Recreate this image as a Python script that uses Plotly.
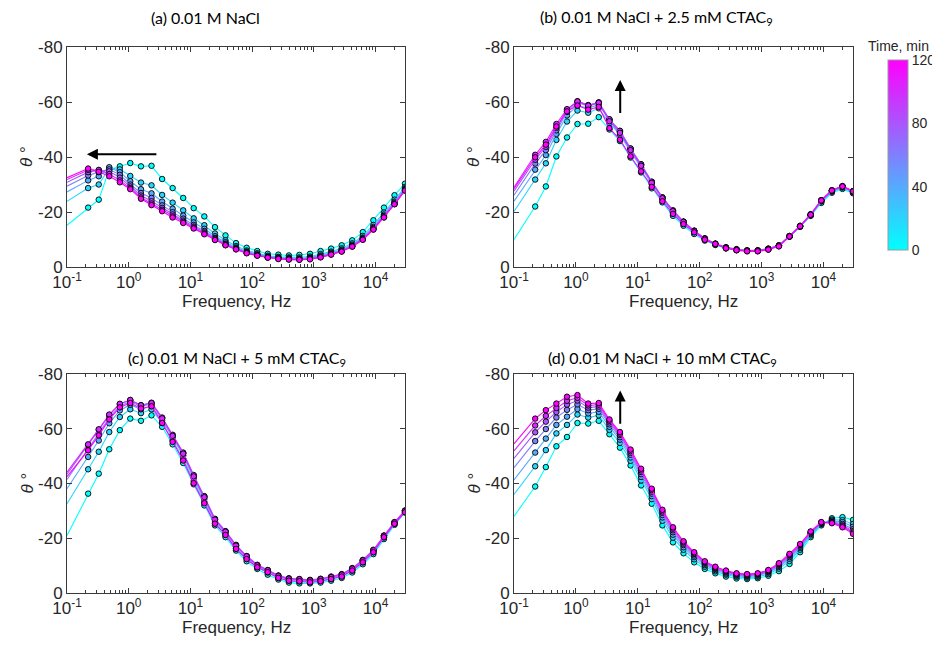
import math
import plotly.graph_objects as go

# ---------------- data ----------------
# frequency points (Hz); the first point (0.1 Hz) is drawn as line only
freq_hz = [0.1, 0.22, 0.327, 0.484, 0.718, 1.06, 1.58, 2.34, 3.48, 5.15, 7.64, 11.3, 16.8,
           25.0, 37.0, 54.8, 81.5, 121, 179, 266, 394, 583, 867, 1285, 1905, 2825, 4188,
           6209, 9226, 13680, 20280, 30000]
time_min = [0, 20, 40, 60, 80, 100, 120]

# (a) 0.01 M NaCl
a_t0 = [-15.2, -21.6, -24.5, -35.4, -36.6, -37.8, -36.6, -36.8, -32.0, -28.7, -25.1, -21.4, -18.4, -14.5, -11.5, -8.7, -7.0, -5.8, -4.8, -4.5, -4.2, -4.4, -4.8, -5.8, -6.7, -7.9, -9.7, -12.7, -17.0, -21.6, -26.1, -30.3]
a_t20 = [-23.9, -28.7, -30.0, -36.0, -35.5, -33.1, -30.7, -29.7, -26.2, -23.4, -20.6, -17.7, -15.2, -12.2, -9.7, -7.6, -6.0, -5.0, -4.1, -3.7, -3.5, -3.5, -3.8, -4.7, -5.6, -6.8, -8.6, -11.3, -15.3, -19.8, -24.5, -29.1]
a_t40 = [-27.3, -31.5, -33.0, -36.3, -34.5, -31.2, -28.3, -26.8, -23.8, -21.2, -18.7, -16.2, -13.9, -11.2, -9.0, -7.1, -5.6, -4.6, -3.8, -3.4, -3.2, -3.1, -3.4, -4.2, -5.2, -6.3, -8.1, -10.7, -14.6, -19.1, -23.8, -28.6]
a_t60 = [-29.4, -33.3, -34.5, -35.5, -33.5, -30.0, -26.9, -25.1, -22.4, -19.9, -17.6, -15.3, -13.1, -10.6, -8.5, -6.8, -5.4, -4.4, -3.7, -3.2, -3.0, -2.9, -3.2, -3.9, -4.9, -6.0, -7.8, -10.4, -14.2, -18.6, -23.4, -28.3]
a_t80 = [-30.8, -34.5, -35.2, -34.8, -32.5, -29.3, -26.0, -23.9, -21.5, -19.1, -16.9, -14.7, -12.6, -10.3, -8.3, -6.6, -5.2, -4.3, -3.5, -3.1, -2.9, -2.8, -3.0, -3.7, -4.7, -5.8, -7.6, -10.2, -13.9, -18.4, -23.1, -28.1]
a_t100 = [-31.8, -35.3, -35.3, -33.8, -31.5, -28.7, -25.3, -23.1, -20.8, -18.4, -16.4, -14.3, -12.2, -10.0, -8.0, -6.5, -5.1, -4.2, -3.5, -3.0, -2.8, -2.7, -2.9, -3.6, -4.6, -5.7, -7.5, -10.0, -13.7, -18.1, -22.9, -27.9]
a_t120 = [-32.5, -35.8, -34.6, -33.0, -30.8, -28.3, -24.8, -22.5, -20.3, -18.0, -16.0, -14.0, -11.9, -9.8, -7.9, -6.4, -5.0, -4.1, -3.4, -2.9, -2.7, -2.6, -2.8, -3.5, -4.5, -5.6, -7.4, -9.9, -13.6, -18.0, -22.8, -27.8]

# (b) 0.01 M NaCl + 2.5 mM CTAC9
b_t0 = [-10.0, -22.0, -29.3, -40.2, -47.1, -52.0, -52.1, -54.5, -50.0, -45.8, -39.8, -34.4, -28.6, -23.5, -18.6, -15.0, -12.0, -9.6, -8.0, -6.8, -6.2, -5.9, -6.0, -6.6, -7.8, -11.0, -14.6, -18.6, -23.3, -27.0, -28.4, -26.8]
b_t20 = [-20.2, -31.8, -37.7, -46.2, -52.9, -56.9, -56.1, -57.7, -52.3, -48.1, -41.8, -36.2, -30.1, -24.6, -19.8, -15.9, -12.7, -10.1, -8.2, -6.8, -6.1, -5.8, -5.8, -6.4, -7.6, -11.1, -14.7, -18.8, -23.8, -27.4, -28.9, -27.2]
b_t40 = [-23.9, -35.4, -40.7, -48.4, -55.1, -58.8, -57.7, -59.1, -53.4, -49.2, -42.8, -37.1, -30.8, -25.2, -20.3, -16.4, -13.1, -10.3, -8.3, -7.0, -6.3, -5.9, -5.9, -6.5, -7.7, -11.1, -14.8, -18.9, -24.0, -27.6, -29.1, -27.3]
b_t60 = [-26.1, -37.6, -42.5, -49.7, -56.4, -59.8, -58.5, -59.7, -53.7, -49.5, -43.1, -37.4, -31.0, -25.3, -20.5, -16.5, -13.2, -10.4, -8.4, -7.1, -6.4, -6.0, -6.0, -6.6, -7.8, -11.2, -14.9, -19.0, -24.1, -27.7, -29.2, -27.4]
b_t80 = [-27.6, -39.0, -43.7, -50.6, -57.1, -60.3, -58.9, -59.9, -53.7, -49.5, -43.1, -37.3, -31.0, -25.3, -20.6, -16.5, -13.2, -10.4, -8.5, -7.2, -6.5, -6.1, -6.1, -6.7, -7.9, -11.3, -15.0, -19.2, -24.3, -27.9, -29.4, -27.6]
b_t100 = [-29.0, -40.8, -45.5, -52.0, -57.4, -60.2, -58.7, -59.7, -53.0, -48.8, -42.5, -36.8, -30.6, -25.0, -20.3, -16.4, -13.1, -10.3, -8.5, -7.0, -6.3, -5.9, -5.9, -6.5, -7.7, -11.2, -14.9, -19.1, -24.3, -27.9, -29.4, -27.6]
b_t120 = [-28.5, -39.9, -44.5, -51.1, -56.6, -58.7, -57.2, -58.2, -50.5, -46.3, -40.2, -34.8, -29.1, -23.9, -19.3, -15.6, -12.6, -9.9, -8.4, -6.8, -6.1, -5.7, -5.7, -6.3, -7.5, -11.1, -14.8, -19.0, -24.2, -27.8, -29.3, -27.5]

# (c) 0.01 M NaCl + 5 mM CTAC9
c_t0 = [-21.0, -36.3, -43.6, -52.5, -59.5, -63.7, -62.9, -64.9, -60.7, -54.3, -47.5, -39.7, -32.0, -24.7, -20.4, -15.5, -11.6, -8.8, -6.7, -4.9, -3.8, -3.5, -3.5, -3.8, -4.5, -5.5, -7.5, -10.5, -14.2, -19.7, -24.9, -29.4]
c_t20 = [-32.6, -45.2, -51.6, -58.8, -64.3, -67.1, -65.7, -67.1, -62.1, -55.7, -49.0, -40.9, -33.3, -25.6, -21.3, -16.3, -12.4, -9.4, -7.5, -5.5, -4.5, -4.2, -4.0, -4.4, -5.1, -6.1, -8.2, -11.2, -14.9, -20.3, -25.3, -29.7]
c_t40 = [-38.1, -49.7, -55.7, -62.0, -66.7, -68.8, -67.1, -68.3, -63.1, -56.8, -50.2, -42.0, -34.4, -26.3, -22.0, -16.9, -13.0, -9.8, -8.0, -5.9, -4.9, -4.7, -4.4, -4.8, -5.5, -6.5, -8.6, -11.6, -15.3, -20.6, -25.6, -29.9]
c_t60 = [-41.5, -52.5, -58.3, -64.0, -68.2, -70.0, -68.1, -69.1, -63.9, -57.6, -51.1, -42.8, -35.2, -26.9, -22.5, -17.4, -13.4, -10.2, -8.3, -6.3, -5.2, -5.0, -4.7, -5.1, -5.9, -6.8, -8.9, -11.9, -15.6, -20.9, -25.8, -30.1]
c_t80 = [-43.4, -54.0, -59.6, -65.0, -69.0, -70.5, -68.6, -69.5, -64.1, -57.8, -51.3, -43.1, -35.4, -27.1, -22.6, -17.6, -13.5, -10.3, -8.4, -6.4, -5.4, -5.1, -4.8, -5.2, -6.0, -6.9, -9.1, -12.1, -15.8, -21.0, -25.9, -30.1]
c_t100 = [-44.1, -54.3, -59.8, -65.2, -69.1, -70.5, -68.6, -69.4, -63.8, -57.4, -50.9, -42.6, -35.0, -26.8, -22.4, -17.3, -13.4, -10.1, -8.3, -6.2, -5.2, -5.0, -4.6, -5.0, -5.8, -6.7, -8.9, -11.9, -15.6, -20.9, -25.8, -30.0]
c_t120 = [-42.5, -52.1, -57.6, -63.4, -67.8, -69.4, -67.4, -68.2, -62.1, -55.2, -48.4, -40.1, -32.8, -25.3, -21.2, -16.1, -12.4, -9.4, -7.6, -5.5, -4.5, -4.3, -3.9, -4.3, -5.1, -6.0, -8.2, -11.2, -14.9, -20.4, -25.3, -29.5]

# (d) 0.01 M NaCl + 10 mM CTAC9
d_t0 = [-28.0, -38.9, -46.0, -53.6, -57.0, -62.1, -61.9, -62.9, -58.0, -53.1, -46.6, -39.3, -32.6, -24.7, -18.5, -14.5, -11.2, -8.8, -7.2, -6.0, -5.3, -5.1, -5.4, -6.3, -8.0, -10.6, -14.9, -20.4, -24.7, -27.3, -27.7, -26.7]
d_t20 = [-36.0, -46.3, -52.2, -58.3, -61.4, -65.2, -64.1, -64.9, -59.6, -54.8, -48.3, -41.1, -34.3, -26.4, -20.2, -15.8, -12.3, -9.6, -7.9, -6.7, -5.9, -5.6, -5.9, -6.9, -8.9, -11.7, -15.8, -21.0, -25.1, -26.8, -26.6, -25.2]
d_t40 = [-41.3, -51.3, -56.4, -61.4, -64.4, -67.2, -65.6, -66.2, -60.7, -56.0, -49.5, -42.4, -35.4, -27.6, -21.3, -16.7, -13.1, -10.2, -8.4, -7.1, -6.3, -6.0, -6.3, -7.4, -9.5, -12.5, -16.4, -21.5, -25.3, -26.4, -25.9, -24.2]
d_t60 = [-45.8, -55.5, -59.9, -64.1, -66.9, -68.9, -66.8, -67.3, -61.6, -56.9, -50.5, -43.4, -36.3, -28.5, -22.2, -17.5, -13.7, -10.7, -8.8, -7.5, -6.6, -6.3, -6.6, -7.7, -9.9, -13.1, -16.9, -21.8, -25.5, -26.1, -25.2, -23.3]
d_t80 = [-49.2, -58.7, -62.6, -66.1, -68.8, -70.3, -67.7, -68.1, -62.3, -57.7, -51.2, -44.2, -37.0, -29.3, -22.9, -18.0, -14.2, -11.0, -9.1, -7.8, -6.8, -6.5, -6.8, -8.0, -10.3, -13.6, -17.3, -22.1, -25.7, -25.9, -24.7, -22.6]
d_t100 = [-51.9, -61.2, -64.7, -67.6, -70.2, -71.3, -68.5, -68.8, -62.9, -58.2, -51.8, -44.8, -37.6, -29.8, -23.5, -18.5, -14.5, -11.3, -9.4, -8.0, -7.0, -6.7, -7.0, -8.2, -10.6, -13.9, -17.6, -22.3, -25.8, -25.7, -24.4, -22.1]
d_t120 = [-54.5, -63.7, -66.8, -69.2, -71.7, -72.3, -69.2, -69.4, -63.4, -58.8, -52.4, -45.4, -38.1, -30.4, -24.0, -18.9, -14.9, -11.6, -9.6, -8.2, -7.2, -6.9, -7.2, -8.4, -10.9, -14.3, -17.9, -22.5, -25.9, -25.5, -24.0, -21.6]

panel_titles = ["(a) 0.01 M NaCl",
                "(b) 0.01 M NaCl + 2.5 mM CTAC<sub>9</sub>",
                "(c) 0.01 M NaCl + 5 mM CTAC<sub>9</sub>",
                "(d) 0.01 M NaCl + 10 mM CTAC<sub>9</sub>"]
panel_curves = [
    [a_t0, a_t20, a_t40, a_t60, a_t80, a_t100, a_t120],
    [b_t0, b_t20, b_t40, b_t60, b_t80, b_t100, b_t120],
    [c_t0, c_t20, c_t40, c_t60, c_t80, c_t100, c_t120],
    [d_t0, d_t20, d_t40, d_t60, d_t80, d_t100, d_t120],
]
x_tickvals = [0.1, 1, 10, 100, 1000, 10000]
x_ticktext = ["10<sup>-1</sup>", "10<sup>0</sup>", "10<sup>1</sup>",
              "10<sup>2</sup>", "10<sup>3</sup>", "10<sup>4</sup>"]
y_tickvals = [0, -20, -40, -60, -80]
y_ticktext = ["0", "-20", "-40", "-60", "-80"]
cbar_tickvals = [0, 40, 80, 120]
# arrows: (head freq Hz, head theta, tail freq Hz, tail theta) or None
panel_arrows = [(0.21, -41, 2.97, -41), (5.2, -68, 5.2, -55.5), None, (5.2, -74, 5.2, -61.3)]

# ---------------- layout geometry (window pixels) ----------------
OFF = 8                      # the page body margin shifts the figure by 8 px
W, H = 940 - OFF, 652 - OFF  # figure size so that it ends at the window edge
boxes = [  # (left, right, top, bottom) in window pixels
    (67, 405, 47, 267),
    (514, 853, 47, 267),
    (67, 405, 374, 593),
    (514, 853, 374, 593),
]
title_pos = [(205, 17), (656, 17), (237, 358), (662, 358)]


def px(x):
    return (x - OFF) / W


def py(y):
    return 1 - (y - OFF) / H


AX_COL = "#3a3a3a"
TXT_COL = "#262626"
TICK_FONT = dict(family="Liberation Sans, Arial", size=17, color=TXT_COL)
CSCALE = [[0, "rgb(0,255,255)"], [1, "rgb(255,0,255)"]]


def tcolor(t):
    f = t / 120.0
    return "rgb(%d,%d,255)" % (round(255 * f), round(255 * (1 - f)))


minor_vals = [m * 10 ** e for e in range(-1, 5) for m in range(2, 10) if m * 10 ** e <= 30000]

fig = go.Figure()
layout = dict(
    width=W, height=H, margin=dict(l=0, r=0, t=0, b=0, autoexpand=False),
    paper_bgcolor="white", plot_bgcolor="white", showlegend=False,
    font=dict(family="Liberation Sans, Arial", color=TXT_COL),
)
annotations = []

for i, (box, curves) in enumerate(zip(boxes, panel_curves)):
    l, r, t, b = box
    n = "" if i == 0 else str(i + 1)
    xa, ya = "x" + n, "y" + n
    layout["xaxis" + n] = dict(
        type="log", range=[-1, 4.477], domain=[px(l), px(r)], anchor=ya, automargin=False,
        tickmode="array", tickvals=x_tickvals, ticktext=x_ticktext,
        ticks="inside", ticklen=5, tickcolor=AX_COL, showline=True, linecolor=AX_COL,
        linewidth=1, mirror="ticks", showgrid=False, zeroline=False, tickfont=TICK_FONT,
        minor=dict(tickmode="array", tickvals=minor_vals, ticks="inside", ticklen=3,
                   tickcolor=AX_COL, showgrid=False),
    )
    layout["yaxis" + n] = dict(
        range=[0, -80], domain=[py(b), py(t)], anchor=xa, automargin=False,
        tickmode="array", tickvals=y_tickvals, ticktext=y_ticktext,
        ticks="inside", ticklen=5, tickcolor=AX_COL, showline=True, linecolor=AX_COL,
        linewidth=1, mirror="ticks", showgrid=False, zeroline=False, tickfont=TICK_FONT,
    )
    for tm, th in zip(time_min, curves):
        col = tcolor(tm)
        fig.add_trace(go.Scatter(x=freq_hz, y=th, mode="lines", xaxis=xa, yaxis=ya,
                                 line=dict(color=col, width=1.1), hoverinfo="skip"))
        fig.add_trace(go.Scatter(x=freq_hz[1:], y=th[1:], mode="markers", xaxis=xa, yaxis=ya,
                                 marker=dict(color=col, size=5.5,
                                             line=dict(color="black", width=0.9))))
    # panel title
    tx, ty = title_pos[i]
    annotations.append(dict(text=panel_titles[i], x=px(tx), y=py(ty), xref="paper", yref="paper",
                            showarrow=False, xanchor="center", yanchor="middle",
                            font=dict(family="Lato, Open Sans", size=16, color="black")))
    # axis titles
    annotations.append(dict(text="Frequency, Hz", x=px((l + r) / 2), y=py(b + 34),
                            xref="paper", yref="paper", showarrow=False,
                            xanchor="center", yanchor="middle",
                            font=dict(family="Liberation Sans, Arial", size=17, color=TXT_COL)))
    annotations.append(dict(text="<i>θ</i> °", x=px(l - 40), y=py((t + b) / 2),
                            xref="paper", yref="paper", showarrow=False, textangle=-90,
                            xanchor="center", yanchor="middle",
                            font=dict(family="Liberation Sans, Arial", size=17, color=TXT_COL)))
    arr = panel_arrows[i]
    if arr is not None:
        hx, hy, txx, tyy = arr
        annotations.append(dict(x=math.log10(hx), y=hy, ax=math.log10(txx), ay=tyy,
                                xref=xa, yref=ya, axref=xa, ayref=ya, text="",
                                showarrow=True, arrowhead=2, arrowsize=1.1, arrowwidth=2,
                                arrowcolor="black"))

# colour bar (time)
fig.add_trace(go.Scatter(
    x=[None], y=[None], mode="markers", xaxis="x", yaxis="y", hoverinfo="skip",
    marker=dict(color=time_min[:1], cmin=0, cmax=120, colorscale=CSCALE, showscale=True,
                colorbar=dict(x=px(888), xanchor="left", y=py(60), yanchor="top",
                              len=190 / H, lenmode="fraction", thickness=20,
                              thicknessmode="pixels", xpad=0, ypad=0,
                              tickvals=cbar_tickvals, ticks="",
                              outlinewidth=1, outlinecolor="#9a9a9a",
                              tickfont=dict(family="Liberation Sans, Arial", size=14,
                                            color=TXT_COL)))))
annotations.append(dict(text="Time, min", x=px(898), y=py(46), xref="paper", yref="paper",
                        showarrow=False, xanchor="center", yanchor="middle",
                        font=dict(family="Liberation Sans, Arial", size=14, color=TXT_COL)))

layout["annotations"] = annotations
fig.update_layout(**layout)
fig.write_html("out.html")
